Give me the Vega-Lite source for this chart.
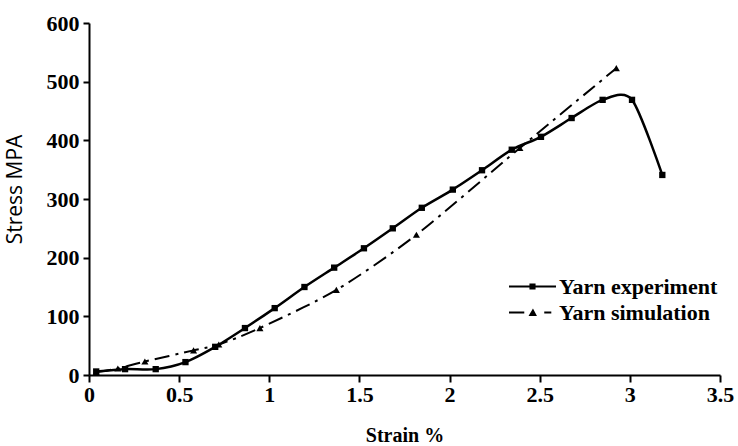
{
  "$schema": "https://vega.github.io/schema/vega-lite/v6.json",
  "width": 631,
  "height": 352,
  "autosize": {"type": "none"},
  "padding": {"left": 89, "top": 23, "right": 18, "bottom": 71},
  "background": "white",
  "config": {
    "view": {"stroke": null},
    "axis": {
      "domainColor": "black",
      "domainWidth": 2,
      "tickColor": "black",
      "tickWidth": 2,
      "grid": false,
      "labelColor": "black",
      "titleColor": "black",
      "labelFont": "Liberation Serif",
      "labelFontSize": 22,
      "labelFontWeight": "bold",
      "labelFlush": false,
      "labelOverlap": false
    },
    "legend": {
      "orient": "none",
      "padding": 0,
      "symbolSize": 2209,
      "symbolStrokeWidth": 0,
      "symbolOffset": 0,
      "labelFont": "Liberation Serif",
      "labelFontSize": 22,
      "labelFontWeight": "bold",
      "labelColor": "black",
      "labelOffset": 3
    }
  },
  "data": {
    "values": [
      {"series": "Yarn experiment", "strain": 0.04, "stress": 6},
      {"series": "Yarn experiment", "strain": 0.2, "stress": 10},
      {"series": "Yarn experiment", "strain": 0.37, "stress": 10},
      {"series": "Yarn experiment", "strain": 0.535, "stress": 22},
      {"series": "Yarn experiment", "strain": 0.7, "stress": 48},
      {"series": "Yarn experiment", "strain": 0.865, "stress": 80},
      {"series": "Yarn experiment", "strain": 1.03, "stress": 114},
      {"series": "Yarn experiment", "strain": 1.195, "stress": 150},
      {"series": "Yarn experiment", "strain": 1.36, "stress": 183},
      {"series": "Yarn experiment", "strain": 1.525, "stress": 216},
      {"series": "Yarn experiment", "strain": 1.685, "stress": 250},
      {"series": "Yarn experiment", "strain": 1.846, "stress": 285},
      {"series": "Yarn experiment", "strain": 2.018, "stress": 316},
      {"series": "Yarn experiment", "strain": 2.18, "stress": 349},
      {"series": "Yarn experiment", "strain": 2.345, "stress": 384},
      {"series": "Yarn experiment", "strain": 2.507, "stress": 406},
      {"series": "Yarn experiment", "strain": 2.677, "stress": 438},
      {"series": "Yarn experiment", "strain": 2.849, "stress": 469},
      {"series": "Yarn experiment", "strain": 3.012, "stress": 469},
      {"series": "Yarn experiment", "strain": 3.18, "stress": 341},
      {"series": "Yarn simulation", "strain": 0.04, "stress": 5},
      {"series": "Yarn simulation", "strain": 0.16, "stress": 11},
      {"series": "Yarn simulation", "strain": 0.31, "stress": 23},
      {"series": "Yarn simulation", "strain": 0.58, "stress": 42},
      {"series": "Yarn simulation", "strain": 0.72, "stress": 52},
      {"series": "Yarn simulation", "strain": 0.948, "stress": 80},
      {"series": "Yarn simulation", "strain": 1.372, "stress": 145},
      {"series": "Yarn simulation", "strain": 1.816, "stress": 239},
      {"series": "Yarn simulation", "strain": 2.39, "stress": 387},
      {"series": "Yarn simulation", "strain": 2.925, "stress": 523}
    ]
  },
  "encoding": {
    "x": {
      "field": "strain",
      "type": "quantitative",
      "scale": {"domain": [0, 3.5], "nice": false, "zero": false},
      "axis": {
        "title": "Strain %",
        "values": [0, 0.5, 1, 1.5, 2, 2.5, 3, 3.5],
        "format": "~g",
        "tickSize": 7,
        "labelPadding": 2,
        "titleFont": "Liberation Serif",
        "titleFontSize": 20,
        "titleFontWeight": "bold",
        "titlePadding": 20
      }
    },
    "y": {
      "field": "stress",
      "type": "quantitative",
      "scale": {"domain": [0, 600], "nice": false},
      "axis": {
        "title": "Stress MPA",
        "values": [0, 100, 200, 300, 400, 500, 600],
        "tickSize": 6,
        "labelPadding": 4,
        "titleFont": "Open Sans",
        "titleFontSize": 21,
        "titleFontWeight": "normal",
        "titleAngle": -90,
        "titleX": -74,
        "titleY": 166,
        "titleBaseline": "middle",
        "titleAlign": "center"
      }
    }
  },
  "layer": [
    {
      "transform": [{"filter": "datum.series === 'Yarn experiment'"}],
      "mark": {"type": "line", "interpolate": "cardinal", "tension": 0.2, "color": "black", "strokeWidth": 2.5}
    },
    {
      "transform": [{"filter": "datum.series === 'Yarn simulation'"}],
      "mark": {"type": "line", "interpolate": "cardinal", "tension": 0.2, "color": "black", "strokeWidth": 2, "strokeDash": [15, 6, 3, 6]}
    },
    {
      "transform": [{"filter": "datum.series === 'Yarn experiment'"}],
      "mark": {"type": "point", "filled": true, "shape": "square", "opacity": 1, "size": 40},
      "encoding": {
        "color": {
          "field": "series",
          "type": "nominal",
          "scale": {"domain": ["Yarn experiment"], "range": ["black"]},
          "legend": {
            "title": null,
            "legendX": 420,
            "legendY": 240,
            "symbolType": "M-1,-0.045L1,-0.045L1,0.045L-1,0.045ZM-0.13,-0.13L0.13,-0.13L0.13,0.13L-0.13,0.13Z"
          }
        }
      }
    },
    {
      "transform": [{"filter": "datum.series === 'Yarn simulation'"}],
      "mark": {"type": "point", "filled": true, "shape": "triangle-up", "opacity": 1, "size": 50},
      "encoding": {
        "fill": {
          "field": "series",
          "type": "nominal",
          "scale": {"domain": ["Yarn simulation"], "range": ["black"]},
          "legend": {
            "title": null,
            "legendX": 420,
            "legendY": 266,
            "symbolType": "M-1,-0.04L-0.35,-0.04L-0.35,0.04L-1,0.04ZM-0.17,0.15L0.02,-0.17L0.19,0.15ZM0.5,-0.04L0.8,-0.04L0.8,0.04L0.5,0.04Z"
          }
        }
      }
    }
  ]
}
